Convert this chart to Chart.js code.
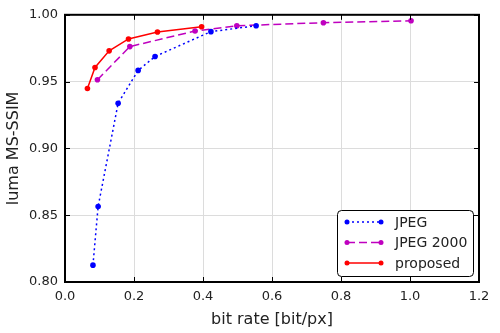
<!DOCTYPE html>
<html>
<head>
<meta charset="utf-8">
<script src="https://cdn.jsdelivr.net/npm/chart.js@4/dist/chart.umd.min.js"></script>
<style>
  html, body { margin: 0; padding: 0; background: #fff; }
  #wrap { width: 500px; height: 333px; }
</style>
</head>
<body>
<div id="wrap"><canvas id="rdChart" width="500" height="333"></canvas></div>
<script>
// Values
const jpegRate = [0.081, 0.096, 0.154, 0.212, 0.261, 0.423, 0.554];
const jpegSsim = [0.8126, 0.8565, 0.9338, 0.9584, 0.9688, 0.9874, 0.9918];

const j2kRate = [0.094, 0.188, 0.377, 0.498, 0.749, 1.003];
const j2kSsim = [0.9514, 0.9762, 0.9879, 0.9918, 0.9941, 0.9955];

const propRate = [0.065, 0.087, 0.128, 0.184, 0.268, 0.396];
const propSsim = [0.9448, 0.9606, 0.973, 0.9819, 0.9871, 0.9911];

const xTicks = [0.0, 0.2, 0.4, 0.6, 0.8, 1.0, 1.2];
const yTicks = [0.80, 0.85, 0.90, 0.95, 1.00];

const FONT = "'DejaVu Sans', sans-serif";

function toPoints(xs, ys) {
    return xs.map((x, i) => ({ x: x, y: ys[i] }));
}

const seriesStyles = [
    { label: 'JPEG', color: '#0000ff', dash: [2, 3], data: toPoints(jpegRate, jpegSsim) },
    { label: 'JPEG 2000', color: '#bf00bf', dash: [8, 4], data: toPoints(j2kRate, j2kSsim) },
    { label: 'proposed', color: '#ff0000', dash: [], data: toPoints(propRate, propSsim) }
];

// Frame with inward ticks on all four sides (classic matplotlib look)
const framePlugin = {
    id: 'frame',
    afterDatasetsDraw(chart) {
        const ctx = chart.ctx;
        const a = chart.chartArea;
        const xs = chart.scales.x, ys = chart.scales.y;
        ctx.save();
        ctx.strokeStyle = '#000';
        ctx.lineWidth = 1;
        xTicks.forEach(v => {
            const px = Math.round(xs.getPixelForValue(v)) + 0.5;
            ctx.beginPath();
            ctx.moveTo(px, a.bottom); ctx.lineTo(px, a.bottom - 5);
            ctx.moveTo(px, a.top); ctx.lineTo(px, a.top + 5);
            ctx.stroke();
        });
        yTicks.forEach(v => {
            const py = Math.round(ys.getPixelForValue(v)) + 0.5;
            ctx.beginPath();
            ctx.moveTo(a.left, py); ctx.lineTo(a.left + 5, py);
            ctx.moveTo(a.right, py); ctx.lineTo(a.right - 5, py);
            ctx.stroke();
        });
        ctx.lineWidth = 2;
        ctx.strokeRect(a.left, a.top, a.right - a.left, a.bottom - a.top);
        ctx.restore();
    }
};

// Legend box in the lower right, line + two markers per entry
const legendPlugin = {
    id: 'boxLegend',
    afterDraw(chart) {
        const ctx = chart.ctx;
        const a = chart.chartArea;
        const w = 136, h = 66;
        const left = a.right - 6 - w, top = a.bottom - 6 - h;
        ctx.save();
        ctx.fillStyle = '#fff';
        ctx.strokeStyle = '#000';
        ctx.lineWidth = 1;
        ctx.beginPath();
        ctx.roundRect(left + 0.5, top + 0.5, w, h, 4);
        ctx.fill();
        ctx.stroke();
        seriesStyles.forEach((s, i) => {
            const y = top + 12 + i * 20.5;
            const x0 = left + 10, x1 = left + 44;
            ctx.strokeStyle = s.color;
            ctx.lineWidth = 1.5;
            ctx.setLineDash(s.dash);
            ctx.beginPath();
            ctx.moveTo(x0, y); ctx.lineTo(x1, y);
            ctx.stroke();
            ctx.setLineDash([]);
            ctx.fillStyle = s.color;
            [x0, x1].forEach(x => {
                ctx.beginPath();
                ctx.arc(x, y, 2.5, 0, Math.PI * 2);
                ctx.fill();
            });
            ctx.fillStyle = '#222';
            ctx.font = '14px ' + FONT;
            ctx.textBaseline = 'middle';
            ctx.fillText(s.label, left + 58, y + 1);
        });
        ctx.restore();
    }
};

const ctx = document.getElementById('rdChart').getContext('2d');
new Chart(ctx, {
    type: 'line',
    data: {
        datasets: seriesStyles.map(s => ({
            label: s.label,
            data: s.data,
            borderColor: s.color,
            backgroundColor: s.color,
            borderDash: s.dash,
            borderWidth: 1.5,
            pointRadius: 2.8,
            pointBorderWidth: 0,
            tension: 0,
            fill: false
        }))
    },
    options: {
        responsive: false,
        animation: false,
        layout: { padding: { top: 13, right: 21, left: 0, bottom: 0 } },
        plugins: { legend: { display: false }, tooltip: { enabled: false } },
        scales: {
            x: {
                type: 'linear',
                min: 0, max: 1.2,
                afterBuildTicks: axis => { axis.ticks = xTicks.map(v => ({ value: v })); },
                afterFit: axis => { axis.height = 51; },
                grid: { color: '#dcdcdc', drawTicks: false },
                border: { display: false },
                ticks: {
                    padding: 7,
                    color: '#222',
                    font: { family: FONT, size: 13 },
                    callback: v => Number(v).toFixed(1)
                },
                title: {
                    display: true,
                    text: 'bit rate [bit/px]',
                    color: '#222',
                    font: { family: FONT, size: 16 },
                    padding: { top: 2 }
                }
            },
            y: {
                type: 'linear',
                min: 0.8, max: 1.0,
                afterBuildTicks: axis => { axis.ticks = yTicks.map(v => ({ value: v })); },
                afterFit: axis => { axis.width = 65; },
                grid: { color: '#dcdcdc', drawTicks: false },
                border: { display: false },
                ticks: {
                    padding: 7,
                    color: '#222',
                    font: { family: FONT, size: 13 },
                    callback: v => Number(v).toFixed(2)
                },
                title: {
                    display: true,
                    text: 'luma MS-SSIM',
                    color: '#222',
                    font: { family: FONT, size: 16 },
                    padding: { bottom: 0 }
                }
            }
        }
    },
    plugins: [framePlugin, legendPlugin]
});
</script>
</body>
</html>
